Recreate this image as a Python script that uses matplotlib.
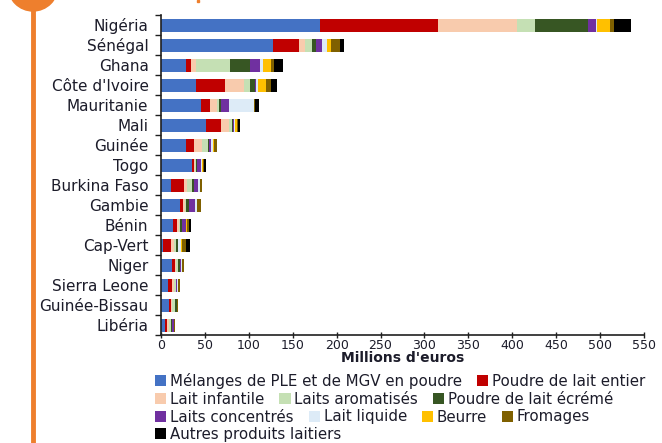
import matplotlib
matplotlib.use("Agg")
import matplotlib.pyplot as plt
from matplotlib.patches import Patch, Ellipse, Rectangle
from matplotlib.lines import Line2D
import numpy as np

countries = ["Nigéria", "Sénégal", "Ghana", "Côte d'Ivoire", "Mauritanie", "Mali",
             "Guinée", "Togo", "Burkina Faso", "Gambie", "Bénin", "Cap-Vert", "Niger",
             "Sierra Leone", "Guinée-Bissau", "Libéria"]

series_names = ["Mélanges de PLE et de MGV en poudre", "Poudre de lait entier",
                "Lait infantile", "Laits aromatisés", "Poudre de lait écrémé",
                "Laits concentrés", "Lait liquide", "Beurre", "Fromages",
                "Autres produits laitiers"]

melanges = [181, 128, 28, 40, 45, 51, 28, 35, 11, 22, 14, 2, 12, 8, 9, 5]
entier = [134, 29, 6, 33, 11, 17, 10, 3, 15, 3, 4, 9, 4, 5, 2, 2]
infantile = [90, 7, 6, 22, 8, 9, 9, 1, 4, 2, 2, 4, 1, 2, 1, 2]
aromatises = [21, 8, 39, 6, 2, 4, 7, 1, 5, 2, 2, 2, 2, 2, 4, 2]
ecreme = [60, 5, 22, 6, 2, 1, 1, 1, 3, 3, 2, 2, 3, 0, 2, 1]
concentres = [9, 6, 12, 1, 10, 1, 2, 5, 4, 7, 4, 0, 1, 1, 0, 3]
liquide = [2, 6, 3, 3, 28, 1, 2, 1, 2, 2, 1, 4, 1, 1, 0, 0]
beurre = [14, 5, 9, 8, 0, 3, 1, 1, 0, 0, 1, 1, 0, 0, 0, 0]
fromages = [5, 10, 4, 6, 1, 1, 4, 1, 3, 4, 2, 5, 2, 3, 1, 1]
autres = [19, 4, 10, 7, 5, 2, 0, 2, 0, 0, 2, 4, 0, 0, 0, 0]

xticks = [0, 50, 100, 150, 200, 250, 300, 350, 400, 450, 500, 550]

colors = ["#4472C4", "#C00000", "#F8CBAD", "#C5E0B4", "#375623", "#7030A0",
          "#DDEBF7", "#FFC000", "#7F6000", "#000000"]

all_series = [melanges, entier, infantile, aromatises, ecreme, concentres,
              liquide, beurre, fromages, autres]

plt.rcParams['font.family'] = ['DejaVu Sans']
txt = "#1c1c2a"

W, H = 662, 443
fig = plt.figure(figsize=(W / 100, H / 100), dpi=100)
ax = fig.add_axes([161 / W, 1 - 335 / H, (644 - 161) / W, (335 - 15) / H])

y = np.arange(len(countries))
left = np.zeros(len(countries))
handles = []
for name, vals, c in zip(series_names, all_series, colors):
    v = np.array(vals, dtype=float)
    ax.barh(y, v, left=left, height=0.65, color=c, label=name, linewidth=0)
    left += v
    handles.append(Patch(facecolor=c, edgecolor='none', label=name))

ax.set_ylim(len(countries) - 0.5, -0.5)
ax.set_xlim(0, 550)
ax.set_xticks(xticks)
ax.set_xticklabels([str(t) for t in xticks], fontsize=9, color=txt)
ax.set_yticks(y)
ax.set_yticklabels(countries, fontsize=11, color=txt)
ax.set_yticks(np.arange(len(countries) + 1) - 0.5, minor=True)
ax.tick_params(axis='y', which='major', length=0, pad=9)
ax.tick_params(axis='y', which='minor', length=4, width=1, color='#202020', direction='out')
ax.tick_params(axis='x', which='major', length=4, width=1, color='#202020', direction='inout', pad=1)
for s in ['top', 'right']:
    ax.spines[s].set_visible(False)
for s in ['left', 'bottom']:
    ax.spines[s].set_color('#202020')
    ax.spines[s].set_linewidth(1.2)
ax.set_xlabel("Millions d'euros", fontsize=10, fontweight='bold', color=txt, labelpad=-1)

rows = [[0, 1], [2, 3, 4], [5, 6, 7, 8], [9]]
row_y = [381, 399, 417, 434]
for r, yy in zip(rows, row_y):
    leg = fig.legend(handles=[handles[i] for i in r], loc='center left',
                     bbox_to_anchor=(155 / W, 1 - yy / H), ncol=len(r), frameon=False,
                     fontsize=10.8, handlelength=0.75, handleheight=0.75, handletextpad=0.25,
                     columnspacing=1.0, borderpad=0, borderaxespad=0)
    for t in leg.get_texts():
        t.set_color(txt)

orange = "#EE7F2D"
fig.add_artist(Line2D([33 / W, 33 / W], [0, 1 - 5 / H], color=orange, lw=3.5,
                      transform=fig.transFigure, solid_capstyle='butt'))
fig.add_artist(Ellipse((33 / W, 1 + 14 / H), 50 / W, 50 / H, color=orange,
                       transform=fig.transFigure))
fig.add_artist(Rectangle((197 / W, 1 - 2 / H), 2 / W, 2 / H, color=orange,
                         transform=fig.transFigure))

fig.savefig("out.png", dpi=100)
